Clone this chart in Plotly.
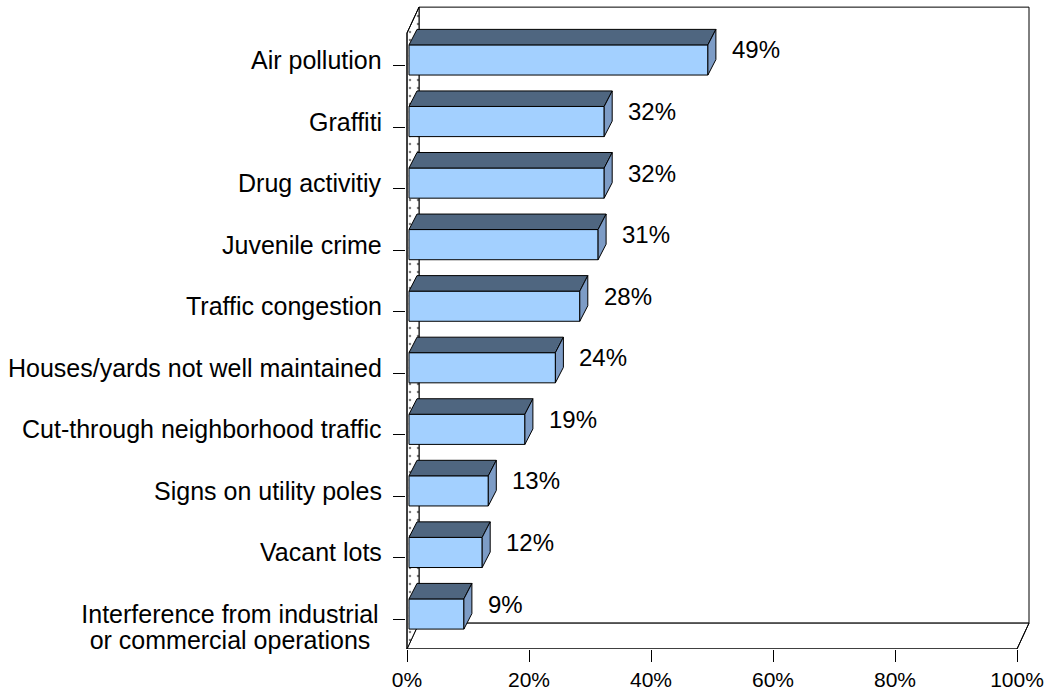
import plotly.graph_objects as go

# Survey results: share of respondents naming each neighborhood problem
categories = [
    "Air pollution",
    "Graffiti",
    "Drug activitiy",
    "Juvenile crime",
    "Traffic congestion",
    "Houses/yards not well maintained",
    "Cut-through neighborhood traffic",
    "Signs on utility poles",
    "Vacant lots",
    "Interference from industrial<br>or commercial operations",
]
values = [49, 32, 32, 31, 28, 24, 19, 13, 12, 9]
x_ticks = [0, 20, 40, 60, 80, 100]

# Page / plot geometry (pixels)
W, H = 1049, 691
ZERO_PX = 407          # pixel column of 0 %
PX_PER_PCT = 6.1
L, R = 406, 1036
ROW_PX = 61.56
ROW0_PX = 614          # pixel row of the bottom category centre
T, B = 4, 649

x_range = [(L - ZERO_PX) / PX_PER_PCT, (R - ZERO_PX) / PX_PER_PCT]
y_range = [(ROW0_PX - B) / ROW_PX, (ROW0_PX - T) / ROW_PX]

# 3-D box geometry in data units
YB = y_range[0]                        # front floor edge
YT = (ROW0_PX - 33) / ROW_PX           # top of the front left edge
WX, WY = 12 / PX_PER_PCT, 0.42         # depth of the walls
BX, BY = 8 / PX_PER_PCT, 15.5 / ROW_PX  # depth of each bar
FX = 2 / PX_PER_PCT                    # bar front plane offset
HALF = 0.245                           # half the bar thickness
TICK_SHIFT = 0.09

n = len(categories)
rows = [n - 1 - i for i in range(n)]

FRONT = "#A3D0FF"
TOP = "#4F6680"
SIDE = "#7D9CC6"
LINE = dict(color="black", width=1)
FONT = "Liberation Sans, Arial, sans-serif"
LABEL_SIZE = 25
LABEL_LINE_H = 26      # line spacing of wrapped category labels
LABEL_BOX_W = 304      # box that wrapped label lines are centred in

fig = go.Figure()

# ---- box walls (base axes, drawn first) ----
fig.add_trace(go.Scatter(
    x=[WX, 100 + WX, 100 + WX, WX, WX],
    y=[YB + WY, YB + WY, YT + WY, YT + WY, YB + WY],
    mode="lines", fill="toself", fillcolor="white", line=LINE,
    hoverinfo="skip", showlegend=False))

fig.add_trace(go.Scatter(
    x=[0, 100, 100 + WX, WX, 0],
    y=[YB, YB, YB + WY, YB + WY, YB],
    mode="lines", fill="toself", fillcolor="white", line=LINE,
    hoverinfo="skip", showlegend=False))

fig.add_trace(go.Scatter(
    x=[0, WX, WX, 0, 0],
    y=[YB, YB + WY, YT + WY, YT, YB],
    mode="lines", fill="toself", fillcolor="white",
    fillpattern=dict(shape=".", fgcolor="black", bgcolor="white", size=8, solidity=0.08),
    line=LINE, hoverinfo="skip", showlegend=False))

fig.add_trace(go.Scatter(
    x=[0, 0, WX, None, 0, 100, 100 + WX],
    y=[YB, YT, YT + WY, None, YB, YB, YB + WY],
    mode="lines", line=LINE, hoverinfo="skip", showlegend=False))

# ---- bars (overlaid axes, drawn on top of the walls) ----
fig.add_trace(go.Bar(
    x=values, y=rows, base=FX, orientation="h", width=2 * HALF,
    marker=dict(color=FRONT, line=LINE), showlegend=False,
    xaxis="x2", yaxis="y2",
    hovertext=[c.replace("<br>", " ") for c in categories],
    hovertemplate="%{hovertext}: %{x}%<extra></extra>"))

tx, ty = [], []
for r, v in zip(rows, values):
    tx += [FX, FX + v, FX + v + BX, FX + BX, FX, None]
    ty += [r + HALF, r + HALF, r + HALF + BY, r + HALF + BY, r + HALF, None]
fig.add_trace(go.Scatter(x=tx, y=ty, mode="lines", fill="toself", fillcolor=TOP,
                         line=LINE, hoverinfo="skip", showlegend=False,
                         xaxis="x2", yaxis="y2"))

sx, sy = [], []
for r, v in zip(rows, values):
    sx += [FX + v, FX + v + BX, FX + v + BX, FX + v, FX + v, None]
    sy += [r - HALF, r - HALF + BY, r + HALF + BY, r + HALF, r - HALF, None]
fig.add_trace(go.Scatter(x=sx, y=sy, mode="lines", fill="toself", fillcolor=SIDE,
                         line=LINE, hoverinfo="skip", showlegend=False,
                         xaxis="x2", yaxis="y2"))

annotations = []
for r, c in zip(rows, categories):
    lines = c.split("<br>")
    for k, line in enumerate(lines):
        ann = dict(
            x=0, y=r, xref="x", yref="y", text=line, showarrow=False,
            xanchor="right", yanchor="middle", xshift=-23,
            yshift=-k * LABEL_LINE_H, align="center",
            font=dict(family=FONT, size=LABEL_SIZE, color="black"))
        if len(lines) > 1:
            ann["width"] = LABEL_BOX_W
        annotations.append(ann)
for r, v in zip(rows, values):
    annotations.append(dict(
        x=FX + v + BX, y=r, xref="x", yref="y", text=f"{v}%", showarrow=False,
        xanchor="left", yanchor="middle", xshift=14, yshift=10,
        font=dict(family=FONT, size=24, color="black")))

hidden = dict(showgrid=False, zeroline=False, showline=False,
              showticklabels=False, ticks="")

fig.update_layout(
    width=W, height=H,
    margin=dict(l=L, r=W - R, t=T, b=H - B, pad=0),
    paper_bgcolor="white", plot_bgcolor="white",
    barmode="overlay",
    annotations=annotations,
    xaxis=dict(range=x_range, tickvals=x_ticks, ticktext=[f"{t}%" for t in x_ticks],
               ticks="outside", ticklen=12, tickcolor="black", tickwidth=1,
               showgrid=False, zeroline=False, showline=False, automargin=False,
               tickfont=dict(family=FONT, size=21, color="black")),
    yaxis=dict(range=y_range, tickvals=[r - TICK_SHIFT for r in rows],
               ticks="outside", ticklen=12, tickcolor="black", tickwidth=1,
               showticklabels=False, showgrid=False, zeroline=False, showline=False,
               automargin=False),
    xaxis2=dict(range=x_range, overlaying="x", **hidden),
    yaxis2=dict(range=y_range, overlaying="y", **hidden),
)

fig.write_html("out.html")
